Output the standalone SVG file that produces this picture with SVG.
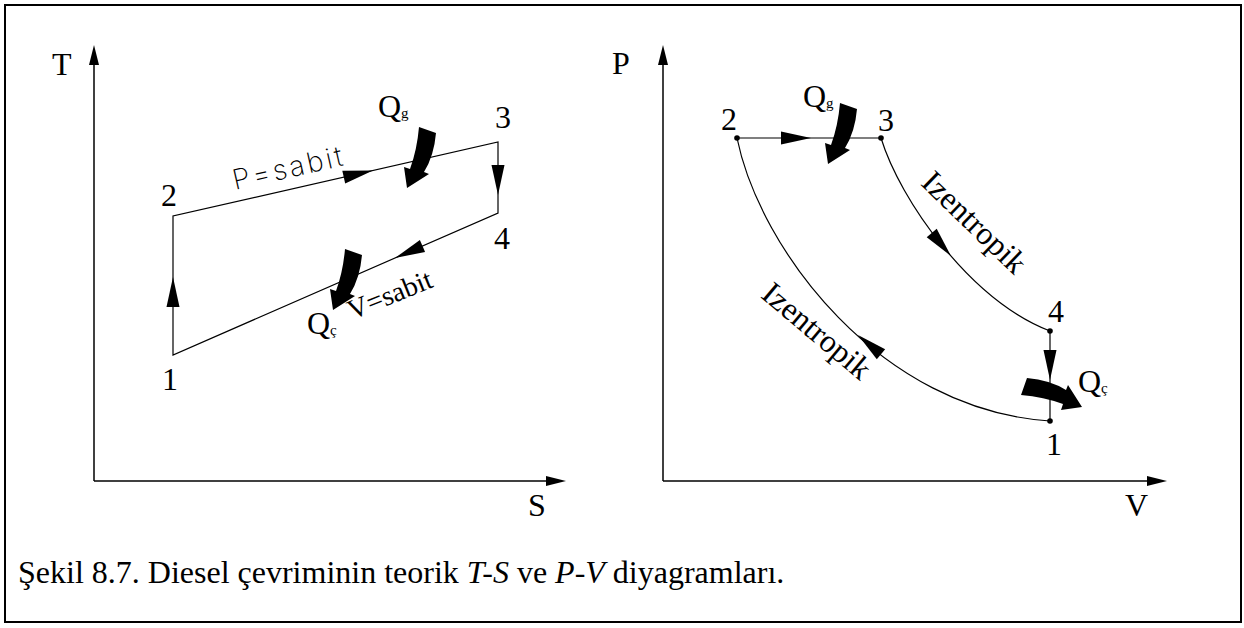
<svg xmlns="http://www.w3.org/2000/svg" xmlns:xlink="http://www.w3.org/1999/xlink" width="1244" height="628" viewBox="0 0 1244 628">
<style>
.ln{fill:none;stroke:#000;stroke-width:1.2}
.ax{fill:none;stroke:#000;stroke-width:1.5}
.lbl{font-family:"Liberation Serif","Times New Roman",serif;font-size:32px;fill:#000}
.sub{font-size:15px}
.cad{font-family:Inter,"Liberation Sans",sans-serif;font-weight:200;font-size:28px;fill:#000}
.dot{fill:#000}
</style>
<defs>
<path id="ah" d="M0,0 L-30,-6.5 L-30,6.5 Z" fill="#000"/>
<path id="axh" d="M0,0 L-20,-5 L-20,5 Z" fill="#000"/>
<path id="qa" d="M12,-61 L29,-55 Q27,-32 17,-16 L22,-14 L0,0 L-3,-21 L3,-19 Q10,-38 12,-61 Z" fill="#000"/>
</defs>
<rect x="5" y="5" width="1236" height="617" fill="#fff" stroke="#000" stroke-width="2"/>

<g id="ts-axes">
<line class="ax" x1="94" y1="481" x2="94" y2="60"/>
<line class="ax" x1="94" y1="481" x2="550" y2="481"/>
<use xlink:href="#axh" transform="translate(94,45) rotate(-90)"/>
<use xlink:href="#axh" transform="translate(566,481)"/>
<text class="lbl" x="52" y="75">T</text>
<text class="lbl" x="528" y="516">S</text>
</g>

<g id="ts-connectors">
<polygon class="ln" points="173,355 173,216 498,142 498,213"/>
<use xlink:href="#ah" transform="translate(173,277) rotate(-90)"/>
<use xlink:href="#ah" transform="translate(373,170.5) rotate(-12.8)"/>
<use xlink:href="#ah" transform="translate(498,195) rotate(90)"/>
<use xlink:href="#ah" transform="translate(395,258) rotate(156.4)"/>
</g>

<g id="ts-node-1"><text class="lbl" x="170" y="390" text-anchor="middle">1</text></g>
<g id="ts-node-2"><text class="lbl" x="169" y="206" text-anchor="middle">2</text></g>
<g id="ts-node-3"><text class="lbl" x="503" y="128" text-anchor="middle">3</text></g>
<g id="ts-node-4"><text class="lbl" x="502" y="249" text-anchor="middle">4</text></g>

<g id="ts-labels">
<text class="cad" transform="translate(235,190) rotate(-12.8)" textLength="112" lengthAdjust="spacing">P=sabit</text>
<text class="lbl" style="font-size:28px" transform="translate(352,320) rotate(-22)">V=sabit</text>
</g>

<g id="ts-qg">
<use xlink:href="#qa" transform="translate(407,188)"/>
<text class="lbl" x="378" y="117">Q<tspan class="sub" dy="1">g</tspan></text>
</g>
<g id="ts-qc">
<use xlink:href="#qa" transform="translate(333,310)"/>
<text class="lbl" x="307" y="334">Q<tspan class="sub" dy="1">ç</tspan></text>
</g>

<g id="pv-axes">
<line class="ax" x1="663" y1="481" x2="663" y2="60"/>
<line class="ax" x1="663" y1="481" x2="1150" y2="481"/>
<use xlink:href="#axh" transform="translate(663,45) rotate(-90)"/>
<use xlink:href="#axh" transform="translate(1167,481)"/>
<text class="lbl" x="612" y="74">P</text>
<text class="lbl" x="1125" y="516">V</text>
</g>

<g id="pv-connectors">
<line class="ln" x1="737" y1="138" x2="881" y2="138"/>
<path class="ln" d="M881,138 C900,200 970,300 1050,331"/>
<line class="ln" x1="1050" y1="331" x2="1050" y2="421"/>
<path class="ln" d="M737,138 C760,250 880,410 1050,421"/>
<use xlink:href="#ah" transform="translate(811,138)"/>
<use xlink:href="#ah" transform="translate(951,256) rotate(50)"/>
<use xlink:href="#ah" transform="translate(1050,380) rotate(90)"/>
<use xlink:href="#ah" transform="translate(858,335) rotate(-140)"/>
</g>

<g id="pv-node-1"><circle class="dot" cx="1050" cy="421" r="2.8"/><text class="lbl" x="1054" y="455" text-anchor="middle">1</text></g>
<g id="pv-node-2"><circle class="dot" cx="737" cy="138" r="2.8"/><text class="lbl" x="729" y="130" text-anchor="middle">2</text></g>
<g id="pv-node-3"><circle class="dot" cx="881" cy="138" r="2.8"/><text class="lbl" x="886" y="131" text-anchor="middle">3</text></g>
<g id="pv-node-4"><circle class="dot" cx="1050" cy="331" r="2.8"/><text class="lbl" x="1056" y="322" text-anchor="middle">4</text></g>

<g id="pv-labels">
<text class="lbl" text-anchor="middle" transform="translate(967,230) rotate(44)">Izentropik</text>
<text class="lbl" text-anchor="middle" transform="translate(810,339) rotate(40)">Izentropik</text>
</g>

<g id="pv-qg">
<use xlink:href="#qa" transform="translate(828,164)"/>
<text class="lbl" x="803" y="107">Q<tspan class="sub" dy="1">g</tspan></text>
</g>
<g id="pv-qc">
<use xlink:href="#qa" transform="translate(1082,407) rotate(-90)"/>
<text class="lbl" x="1078" y="392">Q<tspan class="sub" dy="1">ç</tspan></text>
</g>

<g id="caption">
<text class="lbl" x="18" y="583">Şekil 8.7. Diesel çevriminin teorik <tspan font-style="italic">T-S</tspan> ve <tspan font-style="italic">P-V</tspan> diyagramları.</text>
</g>
</svg>
